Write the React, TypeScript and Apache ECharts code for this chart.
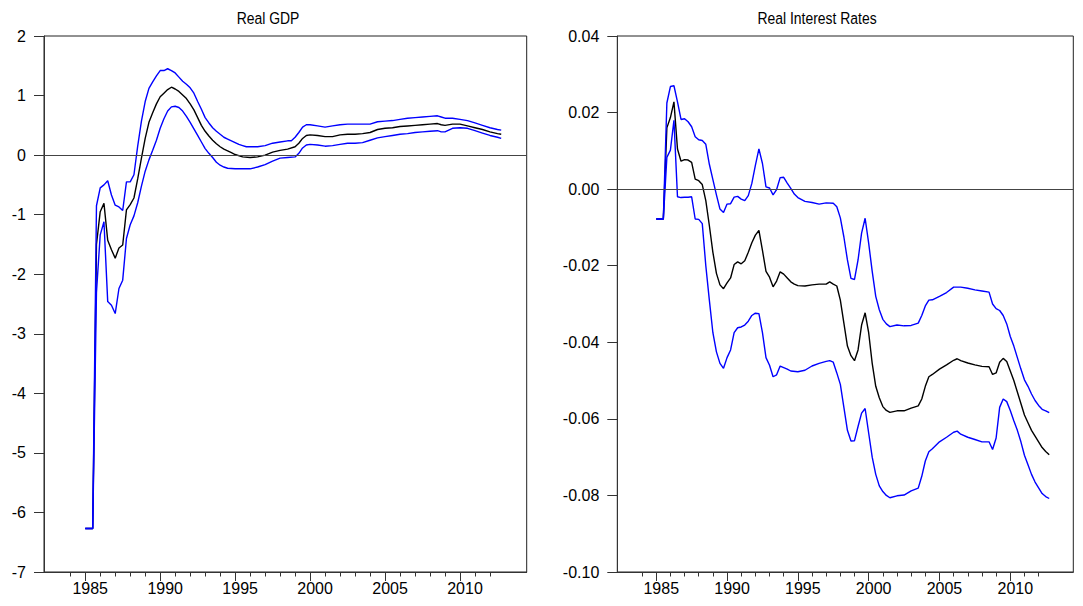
import React, { useEffect, useRef } from "react";
import * as echarts from "echarts";

// ---------- Data ----------
const GDP_UPPER: [number, number][] = [
  [1985.0, -6.27], [1985.25, -6.27], [1985.5, -6.27], [1985.75, -0.85], [1986.0, -0.55], [1986.25, -0.5],
  [1986.5, -0.43], [1986.75, -0.67], [1987.0, -0.84], [1987.25, -0.87], [1987.5, -0.93], [1987.75, -0.45],
  [1988.0, -0.45], [1988.25, -0.33], [1988.5, 0.15], [1988.75, 0.57], [1989.0, 0.9], [1989.25, 1.12],
  [1989.5, 1.23], [1989.75, 1.33], [1990.0, 1.42], [1990.25, 1.42], [1990.5, 1.45], [1990.75, 1.42],
  [1991.0, 1.38], [1991.25, 1.31], [1991.5, 1.24], [1991.75, 1.19], [1992.0, 1.13], [1992.25, 1.04],
  [1992.5, 0.9], [1992.75, 0.77], [1993.0, 0.63], [1993.25, 0.54], [1993.5, 0.46], [1993.75, 0.4],
  [1994.0, 0.35], [1994.25, 0.3], [1994.5, 0.27], [1994.75, 0.24], [1995.0, 0.21], [1995.25, 0.18],
  [1995.5, 0.16], [1995.75, 0.14], [1996.0, 0.14], [1996.5, 0.14], [1997.0, 0.16], [1997.5, 0.2],
  [1998.0, 0.22], [1998.5, 0.24], [1998.75, 0.24], [1999.0, 0.3], [1999.25, 0.38], [1999.5, 0.47],
  [1999.75, 0.51], [2000.0, 0.51], [2000.5, 0.49], [2001.0, 0.47], [2001.5, 0.49], [2002.0, 0.51],
  [2002.5, 0.52], [2003.0, 0.52], [2003.5, 0.52], [2004.0, 0.52], [2004.5, 0.56], [2005.0, 0.57],
  [2005.5, 0.58], [2006.0, 0.6], [2006.5, 0.62], [2007.0, 0.63], [2007.5, 0.64], [2008.0, 0.65],
  [2008.5, 0.66], [2008.75, 0.64], [2009.0, 0.62], [2009.5, 0.62], [2010.0, 0.6], [2010.5, 0.58],
  [2011.0, 0.54], [2011.5, 0.5], [2012.0, 0.46], [2012.5, 0.43], [2012.75, 0.42],
];

const GDP_MEAN: [number, number][] = [
  [1985.0, -6.27], [1985.25, -6.27], [1985.5, -6.27], [1985.75, -1.5], [1986.0, -0.95], [1986.25, -0.81],
  [1986.5, -1.43], [1986.75, -1.59], [1987.0, -1.73], [1987.25, -1.56], [1987.5, -1.51], [1987.75, -0.92],
  [1988.0, -0.83], [1988.25, -0.72], [1988.5, -0.4], [1988.75, -0.05], [1989.0, 0.28], [1989.25, 0.55],
  [1989.5, 0.71], [1989.75, 0.86], [1990.0, 0.98], [1990.25, 1.04], [1990.5, 1.1], [1990.75, 1.14],
  [1991.0, 1.11], [1991.25, 1.07], [1991.5, 1.01], [1991.75, 0.95], [1992.0, 0.86], [1992.25, 0.76],
  [1992.5, 0.63], [1992.75, 0.5], [1993.0, 0.4], [1993.25, 0.32], [1993.5, 0.25], [1993.75, 0.19],
  [1994.0, 0.14], [1994.25, 0.1], [1994.5, 0.07], [1994.75, 0.04], [1995.0, 0.01], [1995.5, -0.03],
  [1996.0, -0.04], [1996.5, -0.03], [1997.0, 0.0], [1997.5, 0.05], [1998.0, 0.08], [1998.5, 0.1],
  [1999.0, 0.14], [1999.25, 0.2], [1999.5, 0.28], [1999.75, 0.33], [2000.0, 0.34], [2000.5, 0.33],
  [2001.0, 0.31], [2001.5, 0.31], [2002.0, 0.34], [2002.5, 0.35], [2003.0, 0.35], [2003.5, 0.36],
  [2004.0, 0.38], [2004.5, 0.43], [2005.0, 0.45], [2005.5, 0.46], [2006.0, 0.48], [2006.5, 0.49],
  [2007.0, 0.5], [2007.5, 0.51], [2008.0, 0.52], [2008.5, 0.53], [2008.75, 0.51], [2009.0, 0.5],
  [2009.5, 0.52], [2010.0, 0.52], [2010.5, 0.49], [2011.0, 0.46], [2011.5, 0.43], [2012.0, 0.39],
  [2012.5, 0.36], [2012.75, 0.35],
];

const GDP_LOWER: [number, number][] = [
  [1985.0, -6.27], [1985.25, -6.27], [1985.5, -6.27], [1985.75, -2.3], [1986.0, -1.34], [1986.25, -1.12],
  [1986.5, -2.46], [1986.75, -2.52], [1987.0, -2.66], [1987.25, -2.24], [1987.5, -2.1], [1987.75, -1.4],
  [1988.0, -1.17], [1988.25, -1.02], [1988.5, -0.8], [1988.75, -0.52], [1989.0, -0.27], [1989.25, -0.08],
  [1989.5, 0.08], [1989.75, 0.25], [1990.0, 0.45], [1990.25, 0.61], [1990.5, 0.74], [1990.75, 0.81],
  [1991.0, 0.82], [1991.25, 0.8], [1991.5, 0.74], [1991.75, 0.65], [1992.0, 0.55], [1992.25, 0.44],
  [1992.5, 0.33], [1992.75, 0.22], [1993.0, 0.11], [1993.25, 0.03], [1993.5, -0.04], [1993.75, -0.12],
  [1994.0, -0.17], [1994.25, -0.2], [1994.5, -0.22], [1995.0, -0.23], [1995.5, -0.23], [1996.0, -0.23],
  [1996.5, -0.2], [1997.0, -0.16], [1997.5, -0.1], [1998.0, -0.05], [1998.5, -0.04], [1999.0, -0.03],
  [1999.25, 0.03], [1999.5, 0.12], [1999.75, 0.17], [2000.0, 0.18], [2000.5, 0.17], [2001.0, 0.15],
  [2001.5, 0.16], [2002.0, 0.18], [2002.5, 0.2], [2003.0, 0.2], [2003.5, 0.21], [2004.0, 0.25],
  [2004.5, 0.29], [2005.0, 0.31], [2005.5, 0.33], [2006.0, 0.35], [2006.5, 0.36], [2007.0, 0.38],
  [2007.5, 0.39], [2008.0, 0.4], [2008.5, 0.41], [2008.75, 0.39], [2009.0, 0.39], [2009.5, 0.45],
  [2010.0, 0.46], [2010.5, 0.45], [2011.0, 0.41], [2011.5, 0.37], [2012.0, 0.33], [2012.5, 0.3],
  [2012.75, 0.28],
];

const RATE_UPPER: [number, number][] = [
  [1985.0, -0.0078], [1985.25, -0.0078], [1985.5, -0.0078], [1985.75, 0.0225], [1986.0, 0.0268], [1986.25, 0.027],
  [1986.5, 0.0228], [1986.75, 0.0182], [1987.0, 0.0184], [1987.25, 0.0176], [1987.5, 0.0163], [1987.75, 0.0137],
  [1988.0, 0.0129], [1988.25, 0.0127], [1988.5, 0.0117], [1988.75, 0.0065], [1989.0, 0.0025], [1989.25, -0.0015],
  [1989.5, -0.0052], [1989.75, -0.0061], [1990.0, -0.0039], [1990.25, -0.0038], [1990.5, -0.0021], [1990.75, -0.0019],
  [1991.0, -0.0026], [1991.25, -0.003], [1991.5, -0.0017], [1991.75, 0.0015], [1992.0, 0.0062], [1992.25, 0.0105],
  [1992.5, 0.0067], [1992.75, 0.0006], [1993.0, 0.0003], [1993.25, -0.0015], [1993.5, -0.0001], [1993.75, 0.003],
  [1994.0, 0.0031], [1994.25, 0.0016], [1994.5, 0.0002], [1994.75, -0.0013], [1995.0, -0.0022], [1995.5, -0.0032],
  [1996.0, -0.0035], [1996.5, -0.0039], [1997.0, -0.0036], [1997.5, -0.0037], [1997.75, -0.0046], [1998.0, -0.0075],
  [1998.25, -0.0125], [1998.5, -0.0185], [1998.75, -0.0233], [1999.0, -0.0236], [1999.25, -0.0185], [1999.5, -0.0115],
  [1999.75, -0.0076], [2000.0, -0.0141], [2000.25, -0.0215], [2000.5, -0.028], [2000.75, -0.0315], [2001.0, -0.034],
  [2001.25, -0.0352], [2001.5, -0.0359], [2002.0, -0.0355], [2002.5, -0.0357], [2003.0, -0.0356], [2003.5, -0.035],
  [2003.75, -0.033], [2004.0, -0.0305], [2004.25, -0.029], [2004.5, -0.0289], [2005.0, -0.028], [2005.5, -0.027],
  [2006.0, -0.0256], [2006.5, -0.0256], [2007.0, -0.0259], [2007.5, -0.0263], [2008.0, -0.0266], [2008.5, -0.0269],
  [2008.75, -0.03], [2009.0, -0.0312], [2009.25, -0.0317], [2009.5, -0.033], [2009.75, -0.0352], [2010.0, -0.0385],
  [2010.25, -0.041], [2010.5, -0.044], [2010.75, -0.047], [2011.0, -0.0498], [2011.25, -0.0515], [2011.5, -0.0535],
  [2011.75, -0.0552], [2012.0, -0.0565], [2012.25, -0.0575], [2012.5, -0.0579], [2012.75, -0.0584],
];

const RATE_MEAN: [number, number][] = [
  [1985.0, -0.0078], [1985.25, -0.0078], [1985.5, -0.0078], [1985.75, 0.016], [1986.0, 0.0187], [1986.25, 0.0228],
  [1986.5, 0.0105], [1986.75, 0.0073], [1987.0, 0.0077], [1987.25, 0.0076], [1987.5, 0.007], [1987.75, 0.0026],
  [1988.0, 0.0022], [1988.25, 0.0012], [1988.5, -0.003], [1988.75, -0.0095], [1989.0, -0.0165], [1989.25, -0.022],
  [1989.5, -0.025], [1989.75, -0.026], [1990.0, -0.0245], [1990.25, -0.0232], [1990.5, -0.0197], [1990.75, -0.019],
  [1991.0, -0.0195], [1991.25, -0.0187], [1991.5, -0.0165], [1991.75, -0.014], [1992.0, -0.012], [1992.25, -0.0108],
  [1992.5, -0.016], [1992.75, -0.0215], [1993.0, -0.023], [1993.25, -0.0255], [1993.5, -0.024], [1993.75, -0.0216],
  [1994.0, -0.0222], [1994.25, -0.0232], [1994.5, -0.0242], [1994.75, -0.0248], [1995.0, -0.0252], [1995.5, -0.0253],
  [1996.0, -0.025], [1996.5, -0.0248], [1997.0, -0.0248], [1997.25, -0.0242], [1997.5, -0.0248], [1997.75, -0.0253],
  [1998.0, -0.029], [1998.25, -0.035], [1998.5, -0.041], [1998.75, -0.0435], [1999.0, -0.0448], [1999.25, -0.042],
  [1999.5, -0.0355], [1999.75, -0.0323], [2000.0, -0.0375], [2000.25, -0.0455], [2000.5, -0.0515], [2000.75, -0.0545],
  [2001.0, -0.0568], [2001.25, -0.0578], [2001.5, -0.0583], [2002.0, -0.0579], [2002.5, -0.0579], [2003.0, -0.0572],
  [2003.5, -0.0566], [2003.75, -0.0548], [2004.0, -0.0515], [2004.25, -0.049], [2004.5, -0.0484], [2005.0, -0.047],
  [2005.5, -0.0459], [2006.0, -0.0447], [2006.25, -0.0443], [2006.5, -0.0448], [2007.0, -0.0454], [2007.5, -0.0459],
  [2008.0, -0.0463], [2008.5, -0.0464], [2008.75, -0.0484], [2009.0, -0.048], [2009.25, -0.0452], [2009.5, -0.0442],
  [2009.75, -0.045], [2010.0, -0.0475], [2010.25, -0.05], [2010.5, -0.053], [2010.75, -0.056], [2011.0, -0.059],
  [2011.25, -0.061], [2011.5, -0.063], [2011.75, -0.0645], [2012.0, -0.066], [2012.25, -0.0675], [2012.5, -0.0685],
  [2012.75, -0.0694],
];

const RATE_LOWER: [number, number][] = [
  [1985.0, -0.0078], [1985.25, -0.0078], [1985.5, -0.0078], [1985.75, 0.0083], [1986.0, 0.0102], [1986.25, 0.018],
  [1986.5, -0.002], [1986.75, -0.0022], [1987.0, -0.0021], [1987.25, -0.0021], [1987.5, -0.002], [1987.75, -0.0078],
  [1988.0, -0.0079], [1988.25, -0.009], [1988.5, -0.02], [1988.75, -0.029], [1989.0, -0.0375], [1989.25, -0.0425],
  [1989.5, -0.0455], [1989.75, -0.0468], [1990.0, -0.044], [1990.25, -0.042], [1990.5, -0.0375], [1990.75, -0.0362],
  [1991.0, -0.036], [1991.25, -0.0355], [1991.5, -0.0345], [1991.75, -0.033], [1992.0, -0.0324], [1992.25, -0.0325],
  [1992.5, -0.0375], [1992.75, -0.044], [1993.0, -0.046], [1993.25, -0.049], [1993.5, -0.0485], [1993.75, -0.0462],
  [1994.0, -0.0466], [1994.25, -0.047], [1994.5, -0.0475], [1995.0, -0.0477], [1995.5, -0.0473], [1996.0, -0.0462],
  [1996.5, -0.0455], [1997.0, -0.045], [1997.25, -0.0448], [1997.5, -0.0452], [1997.75, -0.048], [1998.0, -0.051],
  [1998.25, -0.057], [1998.5, -0.063], [1998.75, -0.0658], [1999.0, -0.0657], [1999.25, -0.062], [1999.5, -0.0585],
  [1999.75, -0.0573], [2000.0, -0.0637], [2000.25, -0.07], [2000.5, -0.0745], [2000.75, -0.0775], [2001.0, -0.079],
  [2001.25, -0.08], [2001.5, -0.0806], [2002.0, -0.0801], [2002.5, -0.0799], [2003.0, -0.0788], [2003.5, -0.0781],
  [2003.75, -0.075], [2004.0, -0.071], [2004.25, -0.0686], [2004.5, -0.0678], [2005.0, -0.066], [2005.5, -0.0648],
  [2006.0, -0.0635], [2006.25, -0.0632], [2006.5, -0.064], [2007.0, -0.0648], [2007.5, -0.0654], [2008.0, -0.066],
  [2008.5, -0.066], [2008.75, -0.068], [2009.0, -0.065], [2009.25, -0.057], [2009.5, -0.0548], [2009.75, -0.0555],
  [2010.0, -0.0578], [2010.25, -0.0605], [2010.5, -0.063], [2010.75, -0.066], [2011.0, -0.0695], [2011.25, -0.072],
  [2011.5, -0.0745], [2011.75, -0.0765], [2012.0, -0.078], [2012.25, -0.0795], [2012.5, -0.0803], [2012.75, -0.0808],
];

const YEAR_LABELS = [1985, 1990, 1995, 2000, 2005, 2010];
const YEAR_MINOR = [1984, 1985, 1986, 1987, 1988, 1989, 1990, 1991, 1992, 1993, 1994, 1995, 1996, 1997, 1998,
  1999, 2000, 2001, 2002, 2003, 2004, 2005, 2006, 2007, 2008, 2009, 2010, 2011, 2012];

const TITLES = ["Real GDP", "Real Interest Rates"];

const FONT = "'Liberation Sans', Arial, Helvetica, sans-serif";
const AXIS_COLOR = "#333";

function majorX(gridIndex: number) {
  return {
    type: "value",
    gridIndex,
    min: 1982.25,
    max: 2014.45,
    position: "bottom",
    splitLine: { show: false },
    axisLine: { show: true, onZero: false, lineStyle: { color: AXIS_COLOR, width: 1 } },
    axisTick: { show: true, customValues: YEAR_LABELS, length: 9, lineStyle: { color: AXIS_COLOR, width: 1 } },
    axisLabel: {
      show: true,
      customValues: YEAR_LABELS,
      margin: 8,
      fontSize: 16,
      fontFamily: FONT,
      color: "#000",
      padding: [0, 0, 0, 10],
      formatter: (v: number) => String(Math.round(v)),
    },
  };
}

function minorX(gridIndex: number) {
  return {
    type: "value",
    gridIndex,
    min: 1982.25,
    max: 2014.45,
    position: "bottom",
    splitLine: { show: false },
    axisLine: { show: false, onZero: false },
    axisTick: { show: true, customValues: YEAR_MINOR, length: 4.5, lineStyle: { color: AXIS_COLOR, width: 1 } },
    axisLabel: { show: false },
  };
}

function yAxis(gridIndex: number, min: number, max: number, interval: number, fmt: (v: number) => string) {
  return {
    type: "value",
    gridIndex,
    min,
    max,
    interval,
    splitLine: { show: false },
    axisLine: { show: true, onZero: false, lineStyle: { color: AXIS_COLOR, width: 1 } },
    axisTick: { show: true, length: 10, lineStyle: { color: AXIS_COLOR, width: 1 } },
    axisLabel: { margin: 18, fontSize: 16, fontFamily: FONT, color: "#000", formatter: fmt },
  };
}

function line(data: [number, number][], color: string, xAxisIndex: number, yAxisIndex: number, withZero = false) {
  const s: any = {
    type: "line",
    data,
    xAxisIndex,
    yAxisIndex,
    symbol: "none",
    showSymbol: false,
    silent: true,
    lineStyle: { color, width: 1.4 },
  };
  if (withZero) {
    s.markLine = {
      silent: true,
      symbol: ["none", "none"],
      label: { show: false },
      lineStyle: { color: "#444", width: 1, type: "solid" },
      data: [{ yAxis: 0 }],
    };
  }
  return s;
}

export default function App() {
  const ref = useRef<HTMLDivElement>(null);
  useEffect(() => {
    if (!ref.current) return;
    const chart = echarts.init(ref.current, null, { renderer: "svg" });
    chart.setOption({
      animation: false,
      backgroundColor: "#fff",
      grid: [
        { left: 44, top: 36, width: 482.7, height: 536, show: true, borderColor: "#222", borderWidth: 1 },
        { left: 617.3, top: 36, width: 456, height: 536, show: true, borderColor: "#222", borderWidth: 1 },
      ],
      xAxis: [majorX(0), minorX(0), majorX(1), minorX(1)],
      yAxis: [
        yAxis(0, -7, 2, 1, (v: number) => String(Math.round(v))),
        yAxis(1, -0.1, 0.04, 0.02, (v: number) => (Math.abs(v) < 1e-9 ? "0.00" : v.toFixed(2))),
      ],
      graphic: [
        {
          type: "text",
          x: 268,
          y: 18,
          scaleX: 0.82,
          style: { text: TITLES[0], fontSize: 17, fontFamily: FONT, fill: "#000", align: "center", verticalAlign: "middle" },
        },
        {
          type: "text",
          x: 817,
          y: 18,
          scaleX: 0.82,
          style: { text: TITLES[1], fontSize: 17, fontFamily: FONT, fill: "#000", align: "center", verticalAlign: "middle" },
        },
      ],
      series: [
        line(GDP_MEAN, "#000000", 0, 0, true),
        line(GDP_UPPER, "#0000ff", 0, 0),
        line(GDP_LOWER, "#0000ff", 0, 0),
        line(RATE_MEAN, "#000000", 2, 1, true),
        line(RATE_UPPER, "#0000ff", 2, 1),
        line(RATE_LOWER, "#0000ff", 2, 1),
      ],
    });
    return () => chart.dispose();
  }, []);
  return (
    <div
      ref={ref}
      style={{ position: "absolute", left: 0, top: 0, width: 1083, height: 606, background: "#fff" }}
    />
  );
}
